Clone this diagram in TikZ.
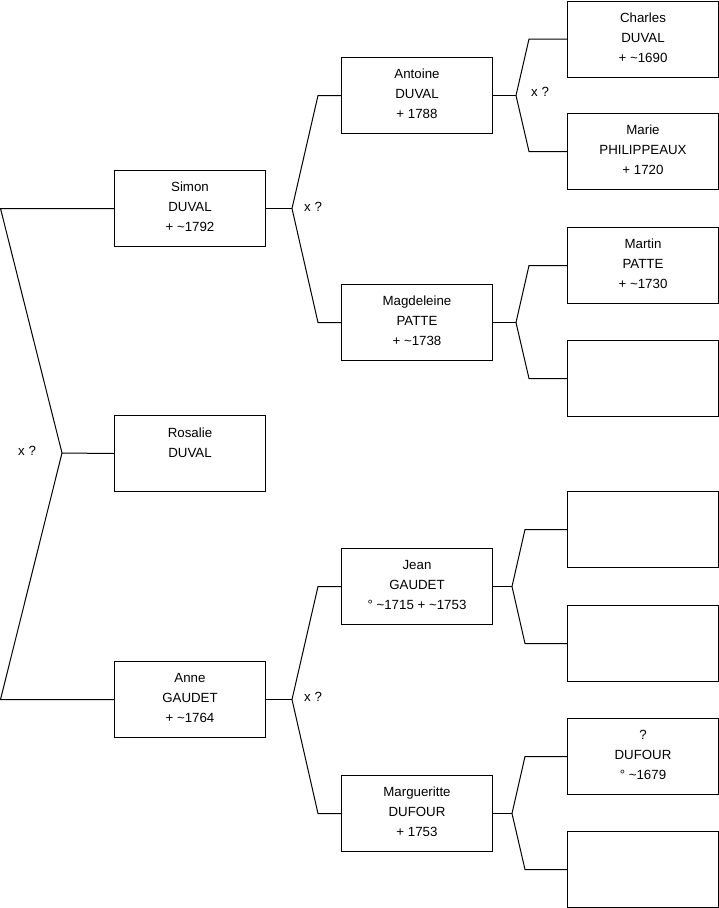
\documentclass[tikz,border=0pt]{standalone}
\usepackage{fontspec}
\setmainfont{Liberation Sans}
\begin{document}
\begin{tikzpicture}[x=1pt,y=-1pt,
  pbox/.style={draw=black, line width=1pt, minimum width=151pt, minimum height=76pt, inner sep=0pt, anchor=north west},
  ptext/.style={font=\fontsize{13.3}{20}\selectfont, align=center, anchor=north, inner sep=0pt, yshift=-12pt},
  conn/.style={draw=black, line width=1pt, line join=miter},
  marr/.style={font=\fontsize{13.3}{16}\selectfont, anchor=west, inner sep=0pt}]
\useasboundingbox (0,0) rectangle (719,908);
% column 1
\node[pbox] (simon) at (114,170) {};
\node[pbox] (rosalie) at (114,415) {};
\node[pbox] (anne) at (114,661) {};
% column 2
\node[pbox] (antoine) at (341,57) {};
\node[pbox] (magd) at (341,284) {};
\node[pbox] (jean) at (341,548) {};
\node[pbox] (marg) at (341,775) {};
% column 3
\node[pbox] (charles) at (567,0.5) {};
\node[pbox] (marie) at (567,113) {};
\node[pbox] (martin) at (567,227) {};
\node[pbox] (e1) at (567,340) {};
\node[pbox] (e2) at (567,491) {};
\node[pbox] (e3) at (567,605) {};
\node[pbox] (dufour) at (567,718) {};
\node[pbox] (e4) at (567,831) {};
% texts
\node[ptext] (simonT) at (simon.north) {Simon\\DUVAL\\+ \textasciitilde1792};
\node[ptext] (rosalieT) at ([yshift=-1pt]rosalie.north) {Rosalie\\DUVAL};
\node[ptext] (anneT) at (anne.north) {Anne\\GAUDET\\+ \textasciitilde1764};
\node[ptext] (antoineT) at (antoine.north) {Antoine\\DUVAL\\+ 1788};
\node[ptext] (magdT) at (magd.north) {Magdeleine\\PATTE\\+ \textasciitilde1738};
\node[ptext] (jeanT) at (jean.north) {Jean\\GAUDET\\° \textasciitilde1715 + \textasciitilde1753};
\node[ptext] (margT) at (marg.north) {Margueritte\\DUFOUR\\+ 1753};
\node[ptext] (charlesT) at (charles.north) {Charles\\DUVAL\\+ \textasciitilde1690};
\node[ptext] (marieT) at (marie.north) {Marie\\PHILIPPEAUX\\+ 1720};
\node[ptext] (martinT) at (martin.north) {Martin\\PATTE\\+ \textasciitilde1730};
\node[ptext] (dufourT) at (dufour.north) {?\\DUFOUR\\° \textasciitilde1679};
% root connectors
\coordinate (r0) at (62,453);
\draw[conn] (simon.west) -- (simon.west -| 0.5,0) -- (r0) -- (anne.west -| 0.5,0) -- (anne.west);
\draw[conn] (r0) -- (rosalie.west);
\node[marr] (xr) at (18,451) {x ?};
% simon
\coordinate (fs) at ([xshift=26pt]simon.east);
\draw[conn] (simon.east) -- (fs);
\draw[conn] (fs) -- ([xshift=-23pt]antoine.west) -- (antoine.west);
\draw[conn] (fs) -- ([xshift=-23pt]magd.west) -- (magd.west);
\node[marr] (xs) at (304,207) {x ?};
% anne
\coordinate (fa) at ([xshift=26pt]anne.east);
\draw[conn] (anne.east) -- (fa);
\draw[conn] (fa) -- ([xshift=-23pt]jean.west) -- (jean.west);
\draw[conn] (fa) -- ([xshift=-23pt]marg.west) -- (marg.west);
\node[marr] (xa) at (304,697) {x ?};
% antoine
\coordinate (fan) at ([xshift=23pt]antoine.east);
\draw[conn] (antoine.east) -- (fan);
\draw[conn] (fan) -- ([xshift=-38pt]charles.west) -- (charles.west);
\draw[conn] (fan) -- ([xshift=-38pt]marie.west) -- (marie.west);
\node[marr] (xan) at (531,92) {x ?};
% magdeleine
\coordinate (fm) at ([xshift=23pt]magd.east);
\draw[conn] (magd.east) -- (fm);
\draw[conn] (fm) -- ([xshift=-38pt]martin.west) -- (martin.west);
\draw[conn] (fm) -- ([xshift=-38pt]e1.west) -- (e1.west);
% jean
\coordinate (fj) at ([xshift=19pt]jean.east);
\draw[conn] (jean.east) -- (fj);
\draw[conn] (fj) -- ([xshift=-42pt]e2.west) -- (e2.west);
\draw[conn] (fj) -- ([xshift=-42pt]e3.west) -- (e3.west);
% margueritte
\coordinate (fg) at ([xshift=19pt]marg.east);
\draw[conn] (marg.east) -- (fg);
\draw[conn] (fg) -- ([xshift=-42pt]dufour.west) -- (dufour.west);
\draw[conn] (fg) -- ([xshift=-42pt]e4.west) -- (e4.west);
\end{tikzpicture}
\end{document}
